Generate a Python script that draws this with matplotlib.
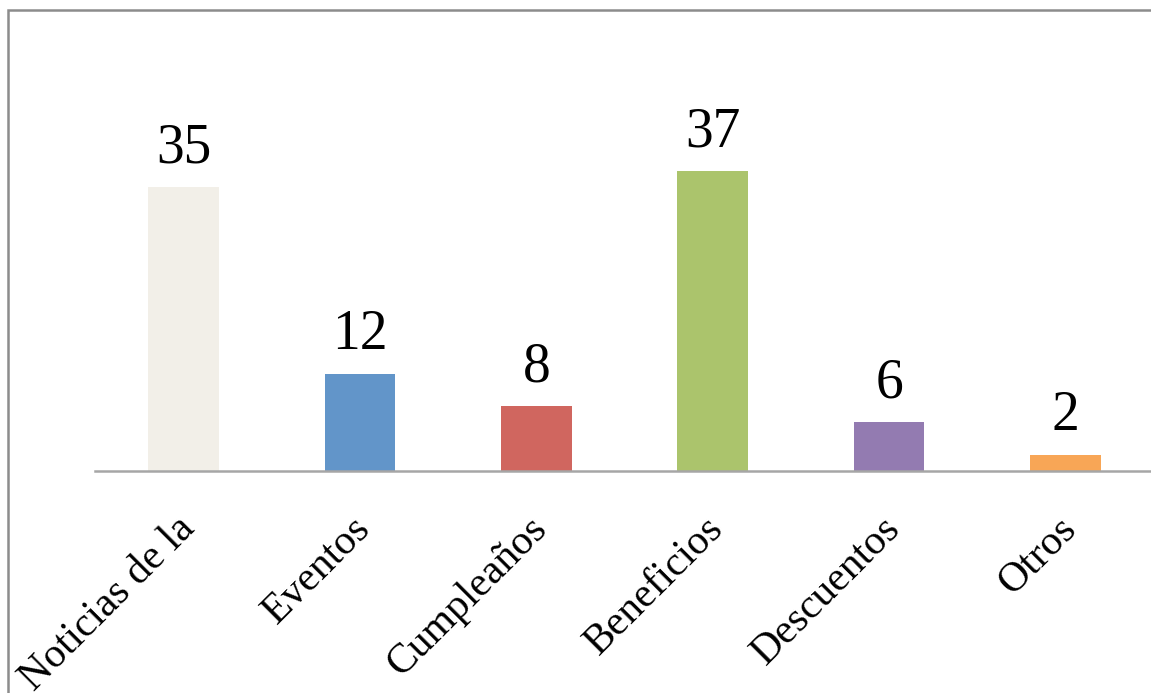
import matplotlib
matplotlib.use("Agg")
import matplotlib.pyplot as plt
import matplotlib.transforms as mtransforms
from matplotlib.patches import Rectangle

# ============================
# DATA
# ============================
categories = ["Noticias de la", "Eventos", "Cumpleaños", "Beneficios", "Descuentos", "Otros"]
values = [35, 12, 8, 37, 6, 2]
colors = ["#F2EFE8", "#6295C9", "#D0665F", "#ABC46C", "#937BB1", "#F8A656"]

plt.rcParams["font.family"] = ["Liberation Serif", "DejaVu Serif"]

W, H = 1151, 693
fig = plt.figure(figsize=(W / 100, H / 100), dpi=100)

# plot area in pixels: left 95, right 1154, baseline at 471
left, right = 95.3, 1153.7
base = 471
top = base - 40 * 8.108
ax = fig.add_axes([left / W, 1 - base / H, (right - left) / W, (base - top) / H])

x = list(range(len(categories)))
ax.bar(x, values, width=0.4, color=colors, zorder=2)
ax.set_xlim(-0.5, len(categories) - 0.5)
ax.set_ylim(0, 40)

for xi, v in zip(x, values):
    ax.annotate(str(v), (xi, v), xytext=(0, 9), textcoords="offset points",
                ha="center", va="bottom", fontsize=40)

for s in ["top", "right", "left"]:
    ax.spines[s].set_visible(False)
ax.spines["bottom"].set_color("#A6A6A6")
ax.spines["bottom"].set_linewidth(1.8)
ax.set_yticks([])
ax.set_xticks(x)
ax.set_xticklabels(categories, rotation=45, ha="right", va="center",
                   rotation_mode="anchor", fontsize=30)
ax.tick_params(axis="x", length=0, pad=0)
offset = mtransforms.ScaledTranslation(5 / 100, -52 / 100, fig.dpi_scale_trans)
for lab in ax.get_xticklabels():
    lab.set_transform(lab.get_transform() + offset)

# chart border (partly cropped)
fig.patches.append(Rectangle((8 / W, -0.1), 1.2, 1 - 10 / H + 0.1, transform=fig.transFigure,
                             fill=False, edgecolor="#8C8C8C", linewidth=1.8))

fig.savefig("out.png", dpi=100)
